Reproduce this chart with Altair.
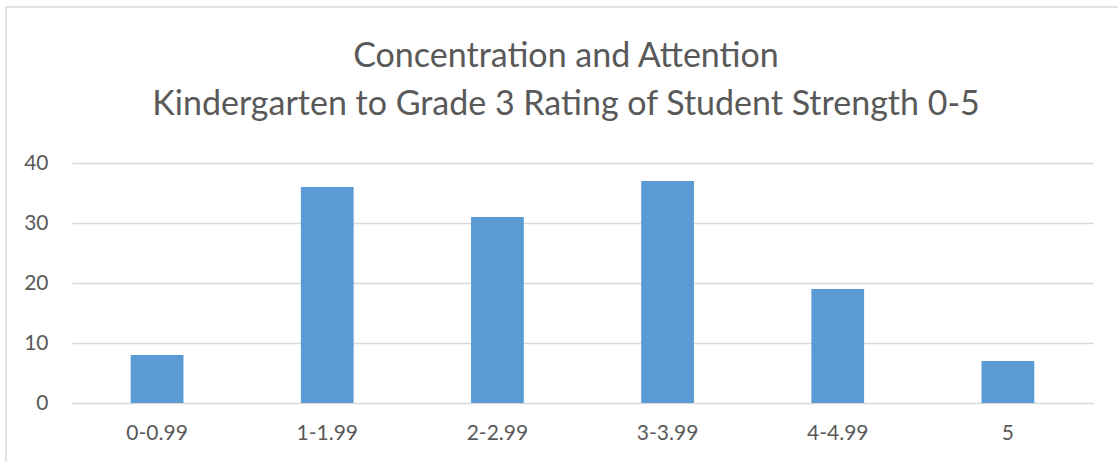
import altair as alt
import pandas as pd

categories = ["0-0.99", "1-1.99", "2-2.99", "3-3.99", "4-4.99", "5"]
counts = [8, 36, 31, 37, 19, 7]
y_ticks = [0, 10, 20, 30, 40]
title_lines = ["Concentration and Attention",
               "Kindergarten to Grade 3 Rating of Student Strength 0-5"]

df = pd.DataFrame({"category": categories, "count": counts})

FONT = "Lato"
GRAY = "#595959"
GRID = "#D9D9D9"

frame = alt.Chart(alt.Data(values=[{"f": 1}])).mark_rect(
    fill=None, stroke=GRID, strokeWidth=1.5
).encode(
    x=alt.value(-66), x2=alt.value(1130),
    y=alt.value(-156), y2=alt.value(320)
)

title1 = alt.Chart(alt.Data(values=[{"t": title_lines[0]}])).mark_text(
    font=FONT, fontSize=34, color=GRAY, align="center", baseline="alphabetic"
).encode(text="t:N", x=alt.value(494), y=alt.value(-96))

title2 = alt.Chart(alt.Data(values=[{"t": title_lines[1]}])).mark_text(
    font=FONT, fontSize=34, color=GRAY, align="center", baseline="alphabetic"
).encode(text="t:N", x=alt.value(494), y=alt.value(-48))

bars = alt.Chart(df).mark_bar(color="#5B9BD5").encode(
    x=alt.X("category:N", sort=categories,
            scale=alt.Scale(paddingInner=0.69, paddingOuter=0.345),
            axis=alt.Axis(title=None, labelAngle=0, ticks=False, domain=True,
                          domainColor=GRID, labelColor=GRAY, labelFont=FONT,
                          labelFontSize=21, labelPadding=19)),
    y=alt.Y("count:Q", scale=alt.Scale(domain=[0, 40]),
            axis=alt.Axis(title=None, values=y_ticks, ticks=False, domain=False,
                          grid=True, gridColor=GRID, gridWidth=1.3,
                          labelColor=GRAY, labelFont=FONT, labelFontSize=21,
                          labelPadding=24)),
)

chart = alt.layer(frame, title1, title2, bars).properties(
    width=1021, height=240,
    autosize=alt.AutoSizeParams(type="none"),
    padding={"left": 72, "top": 163, "right": 25, "bottom": 59},
).configure_view(stroke=None)

chart.save("out.html", embed_options={"renderer": "svg", "actions": False})
